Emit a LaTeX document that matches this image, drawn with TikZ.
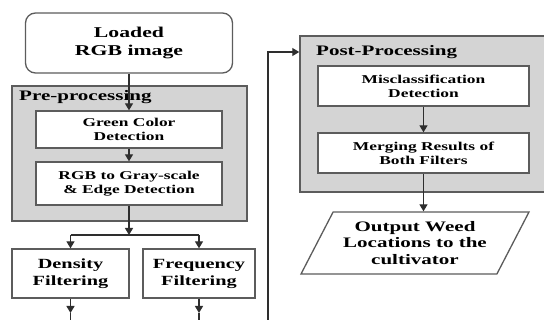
\documentclass[tikz,border=0pt]{standalone}
\usepackage{fontspec}
\setmainfont{Liberation Serif}[FakeStretch=1.45]
\usetikzlibrary{arrows.meta,shapes.geometric,positioning}
\definecolor{grpgrey}{HTML}{D4D4D4}
\definecolor{boxline}{HTML}{5C5C5C}
\definecolor{flowline}{HTML}{2E2E2E}
\tikzset{
  box/.style={draw=boxline,line width=1.3pt,fill=white,align=center,inner sep=0pt},
  grp/.style={draw=boxline,line width=1.5pt,fill=grpgrey,inner sep=0pt},
  outbox/.style={box,trapezium,trapezium left angle=53.4,trapezium right angle=126.6,
    trapezium stretches body=true},
  txtbig/.style={font=\bfseries\fontsize{15}{18}\selectfont},
  txtmid/.style={font=\bfseries\fontsize{14}{17}\selectfont},
  txtsmall/.style={font=\bfseries\fontsize{12}{14}\selectfont},
  lbl/.style={font=\bfseries\fontsize{14.5}{16}\selectfont,inner sep=0pt},
  flow/.style={draw=flowline,line width=1.2pt,-{Triangle[length=7pt,width=8pt]}},
  plain/.style={draw=flowline,line width=1.2pt},
}
\begin{document}
\begin{tikzpicture}[x=1pt,y=-1pt]
\useasboundingbox (0,0) rectangle (544,320);
% grey groups
\node[grp,minimum width=235pt,minimum height=135pt] (pre) at (129.5,153.5) {};
\node[grp,minimum width=250pt,minimum height=156pt] (post) at (425,114) {};
\node[lbl,anchor=west] (prelbl) at (19,97) {Pre-processing};
\node[lbl,anchor=west] (postlbl) at (316,52) {Post-Processing};
% boxes
\node[box,txtbig,rounded corners=10pt,minimum width=207pt,minimum height=60pt] (load) at (129,43) {Loaded\\RGB image};
\node[box,txtsmall,minimum width=186pt,minimum height=37pt] (green) at (129,129.5) {Green Color\\Detection};
\node[box,txtsmall,minimum width=186pt,minimum height=43pt] (gray) at (129,183.5) {RGB to Gray-scale\\\& Edge Detection};
\node[box,txtmid,minimum width=117pt,minimum height=49pt] (dens) at (70.5,273.5) {Density\\Filtering};
\node[box,txtmid,minimum width=112pt,minimum height=49pt] (freq) at (199,273.5) {Frequency\\Filtering};
\node[box,txtsmall,minimum width=211pt,minimum height=40pt] (miscl) at (423.5,86) {Misclassification\\Detection};
\node[box,txtsmall,minimum width=211pt,minimum height=40pt] (merge) at (423.5,153) {Merging Results of\\Both Filters};
\node[outbox,txtmid,font=\bfseries\fontsize{14.5}{16.5}\selectfont,minimum width=228pt,minimum height=62pt] (out) at (415,243) {Output Weed\\Locations to the\\cultivator};
% split and loose ends
\coordinate (split) at (129,235);
\coordinate (dl) at (70.5,235);
\coordinate (fr) at (199,235);
\coordinate (dtip) at (70.5,313);
\coordinate (dbot) at (70.5,322);
\coordinate (ftip) at (199,313);
\coordinate (fbot) at (199,322);
\coordinate (fbstart) at (268,322);
\coordinate (fbturn) at (268,52);
% connectors
\draw[flow] (load) -- (green);
\draw[flow] (green) -- (gray);
\draw[flow] (gray.south) -- (split);
\draw[plain] (dl) -- (fr);
\draw[flow] (dl) -- (dens);
\draw[flow] (fr) -- (freq);
\draw[flow] (dens.south) -- (dtip);
\draw[plain] (dtip) -- (dbot);
\draw[flow] (freq.south) -- (ftip);
\draw[plain] (ftip) -- (fbot);
\draw[flow] (fbstart) -- (fbturn) -- (fbturn -| post.west);
\draw[flow] (miscl) -- (merge);
\draw[flow] (merge.south) -- (merge.south |- out.north);
\end{tikzpicture}
\end{document}
